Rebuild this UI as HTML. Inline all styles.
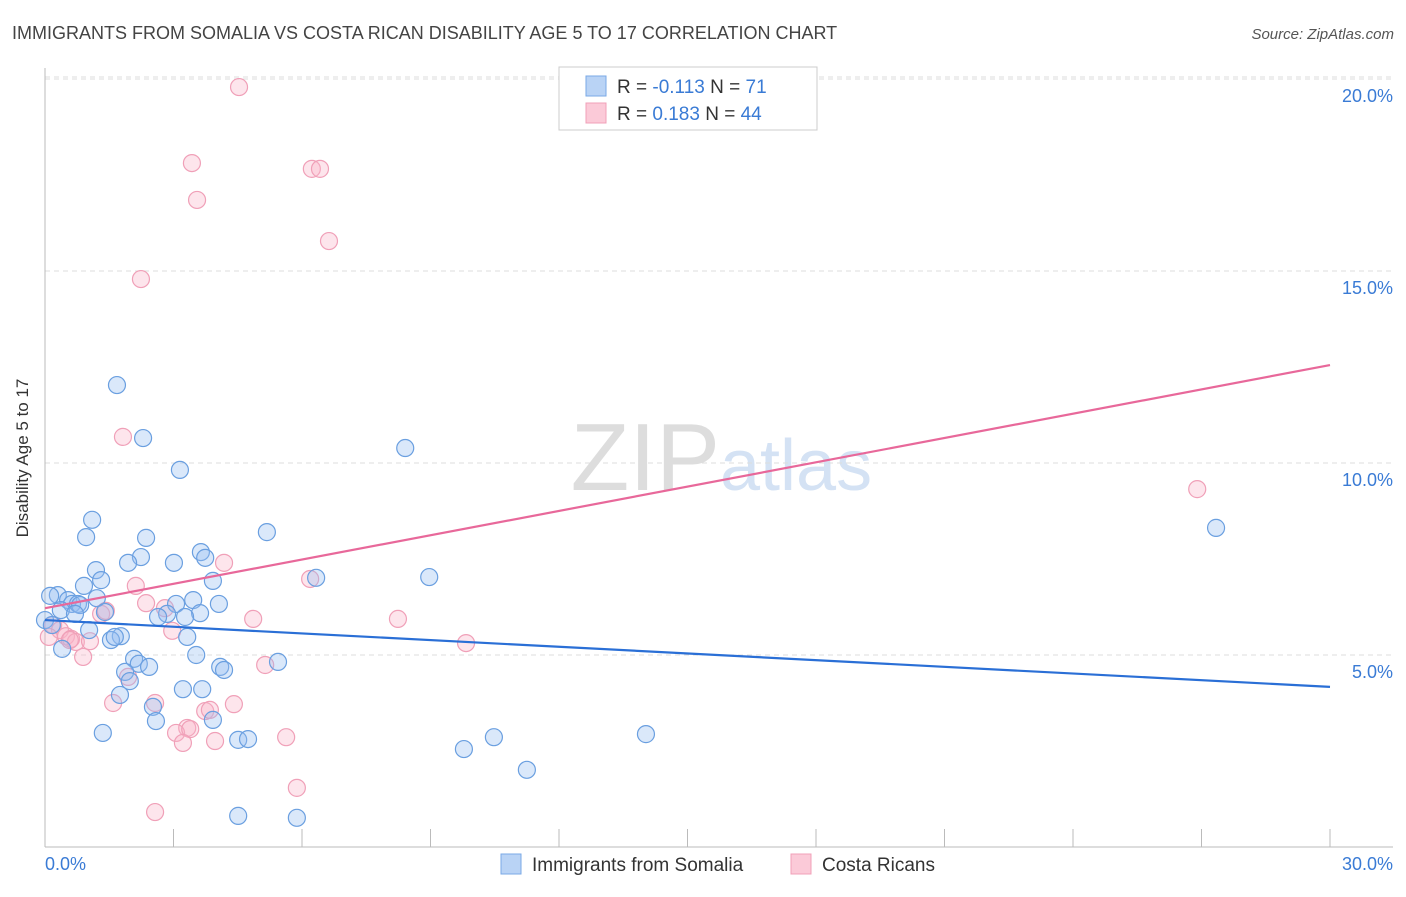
<!DOCTYPE html>
<html><head><meta charset="utf-8"><style>
body{margin:0;background:#fff;font-family:"Liberation Sans",sans-serif;}
svg text{font-family:"Liberation Sans",sans-serif;}
</style></head><body>
<svg id="c" width="1406" height="892" xmlns="http://www.w3.org/2000/svg">
<text x="12" y="39" font-size="18" fill="#444">IMMIGRANTS FROM SOMALIA VS COSTA RICAN DISABILITY AGE 5 TO 17 CORRELATION CHART</text>
<text x="1394" y="39" font-size="15" fill="#555" font-style="italic" text-anchor="end">Source: ZipAtlas.com</text>
<text x="720" y="490" font-size="96" fill="#ddd" text-anchor="end" font-family="Liberation Serif">ZIP</text>
<text x="720" y="490" font-size="72" fill="#d4e2f4">atlas</text>
<g id="grid"></g>
<line x1="45" y1="68" x2="45" y2="847" stroke="#bbb"/>
<line x1="45" y1="847" x2="1393" y2="847" stroke="#bbb"/>
<text x="25" y="455" font-size="17" fill="#333" text-anchor="middle" transform="rotate(-90 28 455)">Disability Age 5 to 17</text>
<g id="pts"></g>
<g id="lines"></g>
<g>
<rect x="559" y="67" width="258" height="63" fill="#fff" stroke="#ccc"/>
<rect x="586" y="76" width="20" height="20" fill="#b9d3f5" stroke="#7aa8e6"/>
<rect x="586" y="103" width="20" height="20" fill="#fbcad8" stroke="#f0a0b8"/>
<text x="617" y="93" font-size="19" fill="#333">R = <tspan fill="#3a7bd5">-0.113</tspan>   N =  <tspan fill="#3a7bd5">71</tspan></text>
<text x="617" y="120" font-size="19" fill="#333">R =  <tspan fill="#3a7bd5">0.183</tspan>   N = <tspan fill="#3a7bd5">44</tspan></text>
</g>
<g>
<rect x="501" y="854" width="20" height="20" fill="#b9d3f5" stroke="#7aa8e6"/>
<text x="532" y="871" font-size="19" fill="#333">Immigrants from Somalia</text>
<rect x="791" y="854" width="20" height="20" fill="#fbcad8" stroke="#f0a0b8"/>
<text x="822" y="871" font-size="19" fill="#333">Costa Ricans</text>
</g>
</svg>
<script>
const xTicks=[0,3,6,9,12,15,18,21,24,27,30];
const yTicks=[5,10,15,20];
const yTickLabels=["5.0%","10.0%","15.0%","20.0%"];
const blueX=[1.68,2.29,3.15,8.41,1.10,0.96,2.36,5.18,3.64,3.74,3.01,2.24,1.94,1.19,1.31,0.91,3.92,6.33,8.97,0.30,0.12,0.54,0.63,0.77,0.82,1.21,0.37,0.70,1.40,3.46,3.06,4.06,3.62,2.85,2.64,3.27,0.00,0.16,1.03,1.77,1.54,1.63,3.32,0.40,3.53,5.44,2.08,2.19,2.43,4.09,4.18,1.87,1.98,3.22,3.67,1.75,2.52,2.59,3.92,1.35,4.51,4.74,10.48,9.78,14.03,11.25,4.51,5.88,27.34];
const blueY=[12.03,10.65,9.82,10.39,8.52,8.07,8.05,8.20,7.68,7.53,7.40,7.55,7.40,7.21,6.95,6.80,6.93,7.01,7.03,6.56,6.54,6.43,6.33,6.33,6.30,6.48,6.17,6.07,6.12,6.43,6.33,6.33,6.09,6.07,5.99,5.99,5.91,5.78,5.65,5.49,5.39,5.47,5.47,5.16,5.00,4.82,4.90,4.77,4.69,4.69,4.61,4.56,4.32,4.11,4.11,3.96,3.65,3.28,3.31,2.97,2.79,2.81,2.86,2.55,2.94,2.01,0.81,0.76,8.31];
const pinkX=[4.53,3.43,6.23,6.42,3.55,6.63,2.24,1.82,26.90,4.18,2.12,6.19,2.36,2.80,1.31,1.42,4.86,8.24,2.97,0.19,0.35,0.49,0.61,0.72,1.05,0.58,0.09,9.83,0.89,5.14,1.94,1.59,2.57,4.41,3.74,3.85,3.32,3.06,3.39,3.97,3.22,5.63,5.88,2.57];
const pinkY=[19.79,17.81,17.66,17.66,16.85,15.78,14.79,10.68,9.32,7.40,6.80,6.98,6.35,6.22,6.07,6.15,5.94,5.94,5.63,5.78,5.65,5.49,5.42,5.34,5.36,5.39,5.47,5.31,4.95,4.74,4.43,3.75,3.75,3.72,3.54,3.57,3.10,2.97,3.07,2.76,2.71,2.86,1.54,0.91];
const blueTrend=[5.91,4.17];
const pinkTrend=[6.22,12.55];
const X=v=>45+v*(1330-45)/30, Y=v=>847-v*38.4;
const NS="http://www.w3.org/2000/svg";
const mk=(t,a,p)=>{const e=document.createElementNS(NS,t);for(const k in a)e.setAttribute(k,a[k]);p.appendChild(e);return e;};
const grid=document.getElementById('grid');
yTicks.forEach((t,i)=>{
 const l=mk('line',{x1:45,x2:1393,y1:Y(t),y2:Y(t),stroke:'#ddd','stroke-dasharray':'5,4'},grid);
 
 
 const tx=mk('text',{x:1393,y:Y(t)+23,'font-size':18,fill:'#3a7bd5','text-anchor':'end'},grid);
 tx.textContent=yTickLabels[i];
 
 
});
const topG=mk('line',{x1:45,x2:1393,y1:Y(20)-2,y2:Y(20)-2,stroke:'#ddd','stroke-dasharray':'5,4'},grid);


xTicks.forEach((t,i)=>{
 if(i===0)return;
 const l=mk('line',{x1:X(t),x2:X(t),y1:829,y2:847,stroke:'#bbb'},grid);
 
 
});
[[0,'0.0%','start',45],[30,'30.0%','end',1393]].forEach(d=>{
 const tx=mk('text',{x:d[3],y:870,'font-size':18,fill:'#3a7bd5','text-anchor':d[2]},grid);
 tx.textContent=d[1];
 
 
});
const pts=document.getElementById('pts');
pinkX.forEach((x,i)=>{
 const c=mk('circle',{cx:X(x),cy:Y(pinkY[i]),r:8.5,fill:'rgba(248,180,200,0.35)',stroke:'#f0a0b8','stroke-width':1.2},pts);
 
 
});
blueX.forEach((x,i)=>{
 const c=mk('circle',{cx:X(x),cy:Y(blueY[i]),r:8.5,fill:'rgba(150,190,240,0.35)',stroke:'#6a9fe0','stroke-width':1.2},pts);
 
 
});
const lines=document.getElementById('lines');
const bl=mk('line',{x1:X(0),y1:Y(blueTrend[0]),x2:X(30),y2:Y(blueTrend[1]),stroke:'#2a6fd6','stroke-width':2.2},lines);


const pl=mk('line',{x1:X(0),y1:Y(pinkTrend[0]),x2:X(30),y2:Y(pinkTrend[1]),stroke:'#e8689a','stroke-width':2.2},lines);


</script>
</body></html>
